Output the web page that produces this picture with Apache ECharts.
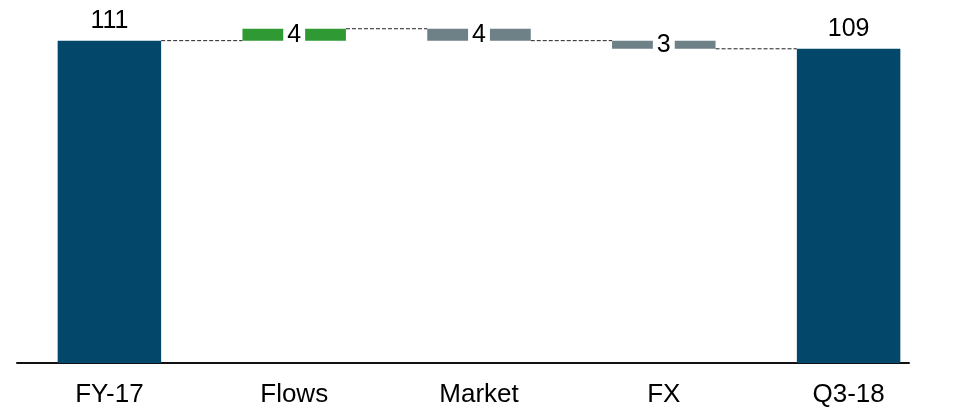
<!DOCTYPE html>
<html>
<head>
<meta charset="utf-8">
<script src="https://cdn.jsdelivr.net/npm/echarts@6/dist/echarts.min.js"></script>
<style>
  html, body { margin: 0; padding: 0; background: #fff; }
  #chart { width: 958px; height: 412px; }
</style>
</head>
<body>
<div id="chart"></div>
<script>
// waterfall: FY-17 -> Q3-18
var categories = ['FY-17', 'Flows', 'Market', 'FX', 'Q3-18'];
var kinds = ['total', 'delta', 'delta', 'delta', 'total'];
var values = [111, 4.1, -4.1, -2.8, 108.2];
var labels = ['111', '4', '4', '3', '109'];

var NAVY = '#03476a';
var GREEN = '#2f9a33';
var GREY = '#6d8186';
var FONT = 'Arial, "Liberation Sans", sans-serif';

// running totals -> invisible base + visible piece
var base = [], piece = [], levels = [];
var running = 0;
for (var i = 0; i < values.length; i++) {
    if (kinds[i] === 'total') {
        running = values[i];
        base.push(0);
        piece.push({
            value: values[i],
            itemStyle: {color: NAVY},
            label: {
                show: true, position: 'top', distance: 7,
                formatter: labels[i], fontSize: 25, color: '#000', fontFamily: FONT
            }
        });
    } else {
        var next = running + values[i];
        base.push(Math.min(running, next));
        piece.push({
            value: Math.abs(values[i]),
            itemStyle: {color: values[i] >= 0 ? GREEN : GREY},
            label: {
                show: true, position: 'inside',
                formatter: labels[i], fontSize: 25, color: '#000', fontFamily: FONT,
                backgroundColor: '#fff', padding: [0, 4]
            }
        });
        running = next;
    }
    levels.push(running);
}

var connectors = [];
for (var j = 0; j < levels.length - 1; j++) {
    connectors.push([j, levels[j]]);
}

var BAR_FRAC = 0.56;

var chart = echarts.init(document.getElementById('chart'));
chart.setOption({
    animation: false,
    grid: [
        {left: 17, right: 17, top: 0, bottom: 49},
        // second grid only carries the (shorter) baseline
        {left: 17, right: 49, top: 0, bottom: 49}
    ],
    xAxis: [
        {
            type: 'category',
            data: categories,
            axisLine: {show: false},
            axisTick: {show: false},
            axisLabel: {fontSize: 26, color: '#000', fontFamily: FONT, margin: 19}
        },
        {
            type: 'value', gridIndex: 1, min: 0, max: 1,
            axisLine: {show: true, onZero: false, lineStyle: {color: '#111', width: 2}},
            axisTick: {show: false}, axisLabel: {show: false}, splitLine: {show: false}
        }
    ],
    yAxis: [
        {type: 'value', min: 0, max: 125, show: false, splitLine: {show: false}},
        {type: 'value', gridIndex: 1, min: 0, max: 1, show: false, splitLine: {show: false}}
    ],
    series: [
        {
            type: 'bar', stack: 'w', data: base, barWidth: (BAR_FRAC * 100) + '%',
            itemStyle: {color: 'transparent'}, silent: true
        },
        {
            type: 'bar', stack: 'w', data: piece, barWidth: (BAR_FRAC * 100) + '%', z: 3
        },
        {
            type: 'custom',
            data: connectors,
            z: 1,
            renderItem: function (params, api) {
                var idx = api.value(0);
                var lvl = api.value(1);
                var band = api.size([1, 0])[0];
                var p0 = api.coord([idx, lvl]);
                var p1 = api.coord([idx + 1, lvl]);
                var half = band * BAR_FRAC / 2;
                return {
                    type: 'line',
                    shape: {x1: p0[0] + half, y1: p0[1], x2: p1[0] - half, y2: p1[1]},
                    style: {stroke: '#222', lineWidth: 1, lineDash: [4, 2]}
                };
            }
        }
    ]
});
</script>
</body>
</html>
